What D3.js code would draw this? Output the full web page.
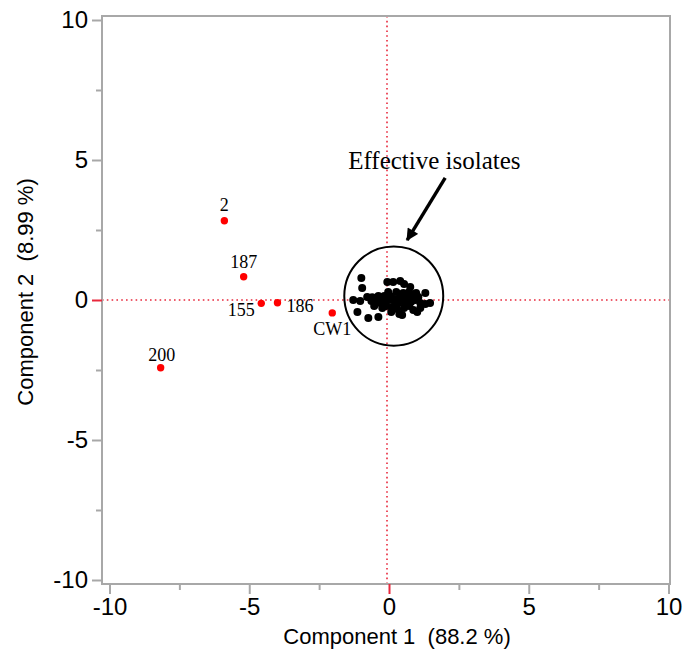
<!DOCTYPE html>
<html>
<head>
<meta charset="utf-8">
<script src="https://cdn.jsdelivr.net/npm/d3@7"></script>
<style>
  html, body { margin: 0; padding: 0; background: #fff; }
  svg { display: block; }
</style>
</head>
<body>
<svg id="chart" width="688" height="654"></svg>
<script>
// ---------- DATA ----------
const xTitle = "Component 1  (88.2 %)";
const yTitle = "Component 2  (8.99 %)";
const xDomain = [-10, 10];
const yDomain = [-10, 10];
const majorTicks = [-10, -5, 0, 5, 10];
const minorTicks = [-7.5, -2.5, 2.5, 7.5];

// labelled (ineffective) isolates, red
const redNames = ["2", "187", "155", "186", "CW1", "200"];
const redX = [-5.89, -5.20, -4.57, -3.99, -2.03, -8.17];
const redY = [2.83, 0.83, -0.12, -0.10, -0.46, -2.42];

// effective isolates, black cluster
const blackX = [-0.99, -0.96, -0.06, 0.15, 0.40, 0.54, 0.76, 0.97, 1.30, -1.28,
  -1.03, -0.78, -0.63, -0.46, -0.31, -0.13, 0.04, 0.19, 0.33, 0.47,
  0.65, 0.79, 0.94, 1.12, 1.30, 1.47, -1.13, -0.74, -0.38, 0.47,
  1.01, -0.10, 0.12, 0.29, 0.54, 0.72, -0.03, 0.26, 0.51, -0.24,
  -0.53, 0.87, 1.12, 0.08, 0.37, -0.17, -0.38, 0.72,
  -0.60, 0.00, 0.40, 0.58, 1.05, 0.22, 0.85, -0.20];
const blackY = [0.79, 0.43, 0.64, 0.64, 0.68, 0.57, 0.46, 0.25, 0.25, 0.00,
  -0.04, 0.11, -0.04, -0.04, -0.11, 0.00, 0.14, 0.04, -0.11, 0.00,
  0.11, -0.07, 0.00, -0.11, -0.14, -0.11, -0.43, -0.64, -0.61, -0.54,
  -0.43, -0.21, -0.25, -0.32, -0.29, -0.21, 0.29, 0.29, 0.25, -0.29,
  -0.21, -0.36, -0.29, -0.43, -0.50, 0.14, 0.14, 0.29,
  0.10, 0.00, 0.11, -0.11, 0.11, -0.11, 0.14, -0.05];

// annotation
const annotationText = "Effective isolates";
const annotationPos = [-1.46, 4.67];
const arrowFrom = [2.01, 4.36];
const arrowTo = [0.65, 2.14];
const circleCenter = [0.17, 0.14];
const circleRadius = 1.77;
const refLineX = 0;
const refLineY = 0;

// ---------- LAYOUT ----------
const svg = d3.select("#chart");
const x = d3.scaleLinear().domain(xDomain).range([109.5, 668.5]);
const y = d3.scaleLinear().domain(yDomain).range([580, 20]);
const frame = { left: 102, right: 670, top: 16, bottom: 584 };
const gray = "#a8a8a8";
const red = "#e8283c";
const sans = "'Liberation Sans', Arial, Helvetica, sans-serif";
const serif = "'Liberation Serif', 'Times New Roman', serif";

// reference dotted lines
svg.append("line")
  .attr("x1", frame.left).attr("x2", frame.right)
  .attr("y1", y(refLineY)).attr("y2", y(refLineY))
  .attr("stroke", red).attr("stroke-width", 1.6)
  .attr("stroke-dasharray", "1.6,3.2");
svg.append("line")
  .attr("x1", x(refLineX) - 2).attr("x2", x(refLineX) - 2)
  .attr("y1", frame.top).attr("y2", frame.bottom)
  .attr("stroke", red).attr("stroke-width", 1.6)
  .attr("stroke-dasharray", "1.6,3.2");

// frame
svg.append("rect")
  .attr("x", frame.left).attr("y", frame.top)
  .attr("width", frame.right - frame.left).attr("height", frame.bottom - frame.top)
  .attr("fill", "none").attr("stroke", gray).attr("stroke-width", 2);

// x axis
const xAxisMajor = d3.axisBottom(x).tickValues(majorTicks).tickSize(10).tickPadding(4)
  .tickFormat(d3.format("d"));
const gx = svg.append("g").attr("transform", `translate(0,${frame.bottom})`).call(xAxisMajor);
gx.select(".domain").remove();
gx.selectAll(".tick line").attr("stroke", d => d === 0 ? red : gray).attr("stroke-width", 2);
gx.selectAll(".tick text").attr("font-family", sans).attr("font-size", 24)
  .attr("fill", "#000").text(d => d < 0 ? "-" + Math.abs(d) : d);
const gxm = svg.append("g").attr("transform", `translate(0,${frame.bottom})`)
  .call(d3.axisBottom(x).tickValues(minorTicks).tickSize(6).tickFormat(""));
gxm.select(".domain").remove();
gxm.selectAll(".tick line").attr("stroke", gray).attr("stroke-width", 2);

// y axis
const yAxisMajor = d3.axisLeft(y).tickValues(majorTicks).tickSize(10).tickPadding(4)
  .tickFormat(d3.format("d"));
const gy = svg.append("g").attr("transform", `translate(${frame.left},0)`).call(yAxisMajor);
gy.select(".domain").remove();
gy.selectAll(".tick line").attr("stroke", d => d === 0 ? red : gray).attr("stroke-width", 2);
gy.selectAll(".tick text").attr("font-family", sans).attr("font-size", 24)
  .attr("fill", "#000").text(d => d < 0 ? "-" + Math.abs(d) : d);
const gym = svg.append("g").attr("transform", `translate(${frame.left},0)`)
  .call(d3.axisLeft(y).tickValues(minorTicks).tickSize(6).tickFormat(""));
gym.select(".domain").remove();
gym.selectAll(".tick line").attr("stroke", gray).attr("stroke-width", 2);

// axis titles
svg.append("text")
  .attr("x", (frame.left + frame.right) / 2 + 11).attr("y", 644)
  .attr("text-anchor", "middle").attr("font-family", sans).attr("font-size", 22)
  .attr("fill", "#000").style("white-space", "pre")
  .text(xTitle);
svg.append("text")
  .attr("transform", `translate(33,${(frame.top + frame.bottom) / 2 - 8}) rotate(-90)`)
  .attr("text-anchor", "middle").attr("font-family", sans).attr("font-size", 22)
  .attr("fill", "#000").style("white-space", "pre")
  .text(yTitle);

// circle around cluster
svg.append("ellipse")
  .attr("cx", x(circleCenter[0])).attr("cy", y(circleCenter[1]))
  .attr("rx", x(circleCenter[0] + circleRadius) - x(circleCenter[0]))
  .attr("ry", y(circleCenter[1]) - y(circleCenter[1] + circleRadius))
  .attr("fill", "none").attr("stroke", "#000").attr("stroke-width", 2);

// black points
const blackData = blackX.map((v, i) => ({ x: v, y: blackY[i] }));
svg.append("g").selectAll("circle").data(blackData).join("circle")
  .attr("cx", d => x(d.x)).attr("cy", d => y(d.y)).attr("r", 4)
  .attr("fill", "#000");

// red points
const redData = redNames.map((n, i) => ({ name: n, x: redX[i], y: redY[i] }));
svg.append("g").selectAll("circle").data(redData).join("circle")
  .attr("cx", d => x(d.x)).attr("cy", d => y(d.y)).attr("r", 3.7)
  .attr("fill", "#ff0000");

// label placement (offsets in px)
const labelPlace = {
  "2":   { dx: 0, dy: -10, anchor: "middle" },
  "187": { dx: 0, dy: -8.5, anchor: "middle" },
  "155": { dx: -6.5, dy: 12.7, anchor: "end" },
  "186": { dx: 9, dy: 9, anchor: "start" },
  "CW1": { dx: 0, dy: 22.5, anchor: "middle" },
  "200": { dx: 1, dy: -7, anchor: "middle" }
};
svg.append("g").selectAll("text").data(redData).join("text")
  .attr("x", d => x(d.x) + labelPlace[d.name].dx)
  .attr("y", d => y(d.y) + labelPlace[d.name].dy)
  .attr("text-anchor", d => labelPlace[d.name].anchor)
  .attr("font-family", serif).attr("font-size", 18).attr("fill", "#000")
  .text(d => d.name);

// annotation text
svg.append("text")
  .attr("x", x(annotationPos[0])).attr("y", y(annotationPos[1]))
  .attr("font-family", serif).attr("font-size", 25).attr("fill", "#000")
  .text(annotationText);

// arrow
const defs = svg.append("defs");
defs.append("marker").attr("id", "ah")
  .attr("viewBox", "0 0 10 10").attr("refX", 9).attr("refY", 5)
  .attr("markerWidth", 4.2).attr("markerHeight", 3.6)
  .attr("markerUnits", "strokeWidth").attr("orient", "auto")
  .append("path").attr("d", "M0,0 L10,5 L0,10 Z").attr("fill", "#000");
svg.append("line")
  .attr("x1", x(arrowFrom[0])).attr("y1", y(arrowFrom[1]))
  .attr("x2", x(arrowTo[0])).attr("y2", y(arrowTo[1]))
  .attr("stroke", "#000").attr("stroke-width", 3.4)
  .attr("marker-end", "url(#ah)");
</script>
</body>
</html>
